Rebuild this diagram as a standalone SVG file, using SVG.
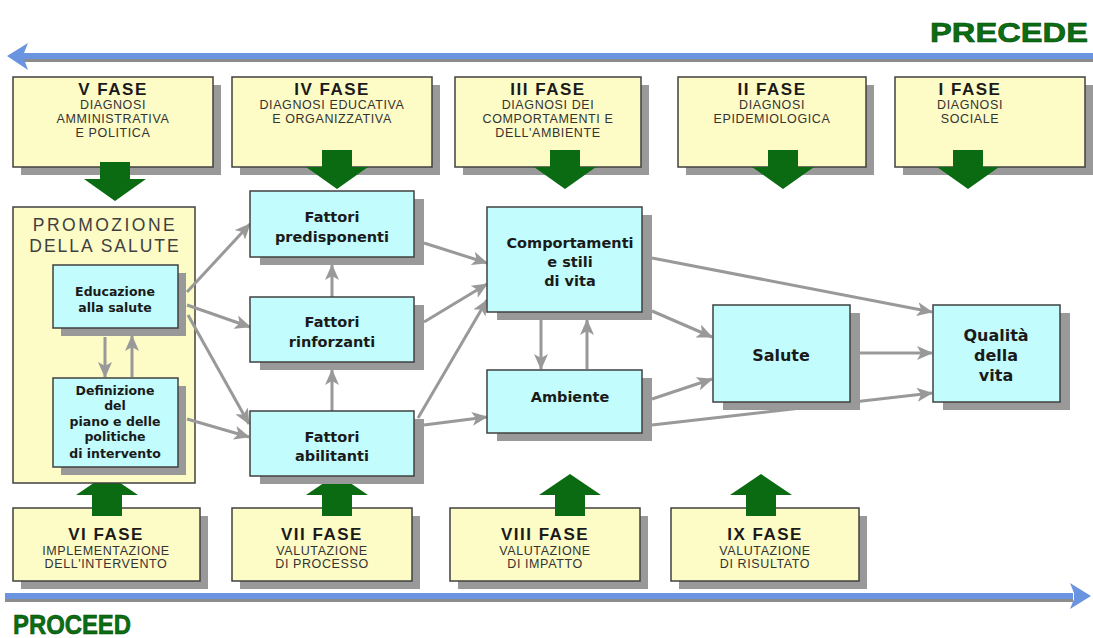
<svg xmlns="http://www.w3.org/2000/svg" width="1093" height="638" viewBox="0 0 1093 638">
<defs>
<style>
.ybox{fill:#fdfbc6;stroke:#404040;stroke-width:1.5}
.cbox{fill:#c2fcfc;stroke:#404040;stroke-width:1.5}
.sh{fill:#999999}
.ft{font-family:"Liberation Sans",Arial,sans-serif;font-weight:bold;font-size:17px;letter-spacing:1.5px;fill:#1a1a1a;text-anchor:middle}
.fs{font-family:"Liberation Sans",Arial,sans-serif;font-size:12.5px;letter-spacing:0.6px;fill:#333333;text-anchor:middle}
.nt{font-family:"DejaVu Sans",Verdana,sans-serif;font-weight:bold;font-size:14.5px;fill:#1a1a1a;text-anchor:middle}
.nb{font-family:"DejaVu Sans",Verdana,sans-serif;font-weight:bold;font-size:16px;fill:#1a1a1a;text-anchor:middle}
.nt2{font-family:"DejaVu Sans",Verdana,sans-serif;font-weight:bold;font-size:12.5px;fill:#1a1a1a;text-anchor:middle}
.big{font-family:"Liberation Sans",Arial,sans-serif;font-weight:bold;font-size:28px;fill:#0b6e12;stroke:#064a0a;stroke-width:0.6}
.ga{fill:#0a6b12}
.con{stroke:#999999;stroke-width:3;fill:none;marker-end:url(#ah)}
</style>
<marker id="ah" viewBox="0 0 16 14" refX="15" refY="7" markerWidth="16" markerHeight="14" markerUnits="userSpaceOnUse" orient="auto">
<path d="M0,0 L16,7 L0,14 L4,7 z" fill="#999999"/>
</marker>
</defs>
<rect width="1093" height="638" fill="#ffffff"/>

<!-- Top PRECEDE arrow -->
<g id="precede-arrow">
<rect x="22" y="58" width="1071" height="4" fill="#8c8c8c"/>
<rect x="22" y="53" width="1071" height="6" fill="#6b94e0"/>
<path d="M7,56 L28,43 L24,53 L24,59 L28,70 z" fill="#6b94e0"/>
<text x="930" y="42" class="big" textLength="158" lengthAdjust="spacingAndGlyphs">PRECEDE</text>
</g>

<!-- Bottom PROCEED arrow -->
<g id="proceed-arrow">
<rect x="5" y="598" width="1068" height="4" fill="#8c8c8c"/>
<rect x="5" y="593" width="1068" height="6" fill="#6b94e0"/>
<path d="M1091,596 L1070,583 L1074,593 L1074,599 L1070,609 z" fill="#6b94e0"/>
<text x="13" y="634" class="big" textLength="118" lengthAdjust="spacingAndGlyphs">PROCEED</text>
</g>

<!-- Top phase boxes -->
<g id="fase5">
<rect x="21" y="85" width="200" height="90" class="sh"/>
<rect x="13" y="77" width="200" height="90" class="ybox"/>
<text x="113" y="95" class="ft">V FASE</text>
<text x="113" y="109" class="fs">DIAGNOSI</text>
<text x="113" y="123" class="fs">AMMINISTRATIVA</text>
<text x="113" y="137" class="fs">E POLITICA</text>
</g>
<g id="fase4">
<rect x="240" y="85" width="200" height="90" class="sh"/>
<rect x="232" y="77" width="200" height="90" class="ybox"/>
<text x="332" y="95" class="ft">IV FASE</text>
<text x="332" y="109" class="fs">DIAGNOSI EDUCATIVA</text>
<text x="332" y="123" class="fs">E ORGANIZZATIVA</text>
</g>
<g id="fase3">
<rect x="463" y="85" width="186" height="90" class="sh"/>
<rect x="455" y="77" width="186" height="90" class="ybox"/>
<text x="548" y="95" class="ft">III FASE</text>
<text x="548" y="109" class="fs">DIAGNOSI DEI</text>
<text x="548" y="123" class="fs">COMPORTAMENTI E</text>
<text x="548" y="137" class="fs">DELL'AMBIENTE</text>
</g>
<g id="fase2">
<rect x="686" y="85" width="188" height="90" class="sh"/>
<rect x="678" y="77" width="188" height="90" class="ybox"/>
<text x="772" y="95" class="ft">II FASE</text>
<text x="772" y="109" class="fs">DIAGNOSI</text>
<text x="772" y="123" class="fs">EPIDEMIOLOGICA</text>
</g>
<g id="fase1">
<rect x="903" y="85" width="190" height="90" class="sh"/>
<rect x="895" y="77" width="190" height="90" class="ybox"/>
<text x="970" y="95" class="ft">I FASE</text>
<text x="970" y="109" class="fs">DIAGNOSI</text>
<text x="970" y="123" class="fs">SOCIALE</text>
</g>

<!-- Top green down arrows -->
<g id="down-arrows">
<path class="ga" d="M100,162 L130,162 L130,179 L146,179 L115,201 L84,179 L100,179 z"/>
<path class="ga" d="M322,150 L352,150 L352,167 L368,167 L337,189 L306,167 L322,167 z"/>
<path class="ga" d="M550,150 L580,150 L580,167 L596,167 L565,189 L534,167 L550,167 z"/>
<path class="ga" d="M768,150 L798,150 L798,167 L814,167 L783,189 L752,167 L768,167 z"/>
<path class="ga" d="M953,150 L983,150 L983,167 L999,167 L968,189 L937,167 L953,167 z"/>
</g>

<!-- Bottom phase boxes -->
<g id="fase6">
<rect x="21" y="516" width="187" height="73" class="sh"/>
<rect x="13" y="508" width="187" height="73" class="ybox"/>
<text x="106" y="540" class="ft">VI FASE</text>
<text x="106" y="555" class="fs">IMPLEMENTAZIONE</text>
<text x="106" y="568" class="fs">DELL'INTERVENTO</text>
</g>
<g id="fase7">
<rect x="240" y="516" width="180" height="73" class="sh"/>
<rect x="232" y="508" width="180" height="73" class="ybox"/>
<text x="322" y="540" class="ft">VII FASE</text>
<text x="322" y="555" class="fs">VALUTAZIONE</text>
<text x="322" y="568" class="fs">DI PROCESSO</text>
</g>
<g id="fase8">
<rect x="458" y="516" width="190" height="73" class="sh"/>
<rect x="450" y="508" width="190" height="73" class="ybox"/>
<text x="545" y="540" class="ft">VIII FASE</text>
<text x="545" y="555" class="fs">VALUTAZIONE</text>
<text x="545" y="568" class="fs">DI IMPATTO</text>
</g>
<g id="fase9">
<rect x="679" y="516" width="188" height="73" class="sh"/>
<rect x="671" y="508" width="188" height="73" class="ybox"/>
<text x="765" y="540" class="ft">IX FASE</text>
<text x="765" y="555" class="fs">VALUTAZIONE</text>
<text x="765" y="568" class="fs">DI RISULTATO</text>
</g>

<!-- Bottom green up arrows -->
<g id="up-arrows">
<path class="ga" d="M92,516 L122,516 L122,495 L138,495 L107,474 L76,495 L92,495 z"/>
<path class="ga" d="M322,516 L352,516 L352,495 L368,495 L337,474 L306,495 L322,495 z"/>
<path class="ga" d="M555,516 L585,516 L585,495 L601,495 L570,474 L539,495 L555,495 z"/>
<path class="ga" d="M746,516 L776,516 L776,495 L792,495 L761,474 L730,495 L746,495 z"/>
</g>

<!-- Promozione della salute container -->
<g id="promozione">
<rect x="13" y="207" width="182" height="276" class="ybox"/>
<text x="105" y="231" font-family="Liberation Sans,Arial,sans-serif" font-size="17.5" letter-spacing="2.5" fill="#404040" text-anchor="middle">PROMOZIONE</text>
<text x="105" y="252" font-family="Liberation Sans,Arial,sans-serif" font-size="17.5" letter-spacing="2" fill="#404040" text-anchor="middle">DELLA SALUTE</text>
</g>

<!-- Connectors -->
<g id="connectors">
<line class="con" x1="105" y1="337" x2="105" y2="377"/>
<line class="con" x1="132" y1="377" x2="132" y2="336"/>
<line class="con" x1="187" y1="292" x2="250" y2="224"/>
<line class="con" x1="187" y1="305" x2="250" y2="327"/>
<line class="con" x1="188" y1="315" x2="249" y2="424"/>
<line class="con" x1="187" y1="419" x2="249" y2="437"/>
<line class="con" x1="332" y1="297" x2="332" y2="265"/>
<line class="con" x1="332" y1="411" x2="332" y2="370"/>
<line class="con" x1="424" y1="243" x2="487" y2="263"/>
<line class="con" x1="424" y1="322" x2="487" y2="284"/>
<line class="con" x1="418" y1="418" x2="487" y2="300"/>
<line class="con" x1="424" y1="425" x2="487" y2="417"/>
<line class="con" x1="541" y1="320" x2="541" y2="369"/>
<line class="con" x1="587" y1="369" x2="587" y2="320"/>
<line class="con" x1="652" y1="258" x2="932" y2="312"/>
<line class="con" x1="652" y1="311" x2="712" y2="337"/>
<line class="con" x1="652" y1="399" x2="712" y2="379"/>
<line class="con" x1="652" y1="425" x2="932" y2="393"/>
<line class="con" x1="860" y1="353" x2="932" y2="353"/>
</g>

<!-- Cyan nodes -->
<g id="educazione">
<rect x="61" y="273" width="125" height="63" class="sh"/>
<rect x="53" y="265" width="125" height="63" class="cbox"/>
<text x="115" y="296" class="nt2">Educazione</text>
<text x="115" y="312" class="nt2">alla salute</text>
</g>
<g id="definizione">
<rect x="61" y="386" width="125" height="89" class="sh"/>
<rect x="53" y="378" width="125" height="89" class="cbox"/>
<text x="115" y="395" class="nt2">Definizione</text>
<text x="115" y="410" class="nt2">del</text>
<text x="115" y="426" class="nt2">piano e delle</text>
<text x="115" y="441" class="nt2">politiche</text>
<text x="115" y="458" class="nt2">di intervento</text>
</g>
<g id="predisponenti">
<rect x="260" y="199" width="164" height="66" class="sh"/>
<rect x="250" y="191" width="164" height="66" class="cbox"/>
<text x="332" y="222" class="nt">Fattori</text>
<text x="332" y="242" class="nt">predisponenti</text>
</g>
<g id="rinforzanti">
<rect x="260" y="305" width="164" height="65" class="sh"/>
<rect x="250" y="297" width="164" height="65" class="cbox"/>
<text x="332" y="327" class="nt">Fattori</text>
<text x="332" y="347" class="nt">rinforzanti</text>
</g>
<g id="abilitanti">
<rect x="260" y="419" width="164" height="65" class="sh"/>
<rect x="250" y="411" width="164" height="65" class="cbox"/>
<text x="332" y="442" class="nt">Fattori</text>
<text x="332" y="461" class="nt">abilitanti</text>
</g>
<g id="comportamenti">
<rect x="497" y="215" width="155" height="105" class="sh"/>
<rect x="487" y="207" width="155" height="105" class="cbox"/>
<text x="570" y="248" class="nt" font-size="15">Comportamenti</text>
<text x="570" y="267" class="nt" font-size="15">e stili</text>
<text x="570" y="286" class="nt" font-size="15">di vita</text>
</g>
<g id="ambiente">
<rect x="497" y="378" width="155" height="63" class="sh"/>
<rect x="487" y="370" width="155" height="63" class="cbox"/>
<text x="570" y="402" class="nt" font-size="15">Ambiente</text>
</g>
<g id="salute">
<rect x="723" y="313" width="137" height="97" class="sh"/>
<rect x="713" y="305" width="137" height="97" class="cbox"/>
<text x="781" y="361" class="nb">Salute</text>
</g>
<g id="qualita">
<rect x="943" y="313" width="127" height="97" class="sh"/>
<rect x="933" y="305" width="127" height="97" class="cbox"/>
<text x="996" y="341" class="nb">Qualità</text>
<text x="996" y="361" class="nb">della</text>
<text x="996" y="381" class="nb">vita</text>
</g>
</svg>
